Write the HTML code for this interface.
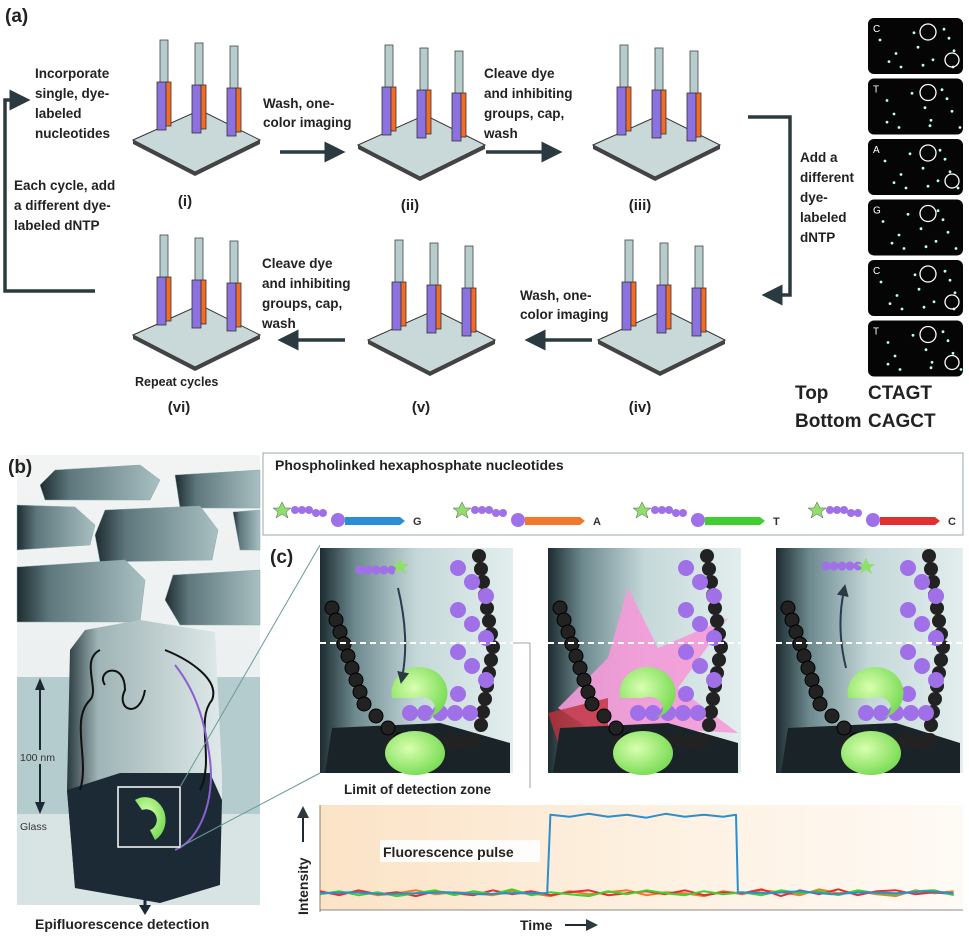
<!DOCTYPE html>
<html><head><meta charset="utf-8"><style>
html,body{margin:0;padding:0;background:#fff}
svg{display:block}
text{font-family:"Liberation Sans",Arial,sans-serif}
.b{font-weight:bold;fill:#222}
</style></head><body>
<svg id="fig" width="969" height="936" viewBox="0 0 969 936" xmlns="http://www.w3.org/2000/svg">
<defs>
<linearGradient id="bgB" x1="0" y1="0" x2="0" y2="1"><stop offset="0" stop-color="#f2f4f4"/><stop offset="1" stop-color="#e6ecec"/></linearGradient>
<linearGradient id="hex" x1="0" y1="0" x2="1" y2="0"><stop offset="0" stop-color="#1e2c30"/><stop offset="0.25" stop-color="#5d777c"/><stop offset="1" stop-color="#a9c0c2"/></linearGradient>
<linearGradient id="cyl" x1="0" y1="0" x2="1" y2="0"><stop offset="0" stop-color="#2a3a3e"/><stop offset="0.2" stop-color="#9fb4b6"/><stop offset="1" stop-color="#dfe9e9"/></linearGradient>
<linearGradient id="pan" x1="0" y1="0" x2="1" y2="0"><stop offset="0" stop-color="#1d2c30"/><stop offset="0.18" stop-color="#6d8a8f"/><stop offset="0.5" stop-color="#c5d8d9"/><stop offset="1" stop-color="#e3eeee"/></linearGradient>
<linearGradient id="chartbg" x1="0" y1="0" x2="1" y2="0"><stop offset="0" stop-color="#fbe3c6"/><stop offset="0.5" stop-color="#fdf0e0"/><stop offset="1" stop-color="#fefaf5"/></linearGradient>
<radialGradient id="grn" cx="0.4" cy="0.4" r="0.7"><stop offset="0" stop-color="#d9ffb0"/><stop offset="1" stop-color="#6fd84a"/></radialGradient>
<marker id="ah" markerWidth="6" markerHeight="6" refX="3" refY="3" orient="auto"><path d="M0,0 L6,3 L0,6 z" fill="#2b3a40"/></marker>
</defs>

<!-- PART A -->
<text x="5" y="22" class="b" font-size="19">(a)</text>
<g id="pillars"></g>

<g font-size="13.5" class="b">
<text x="35" y="78"><tspan x="35">Incorporate</tspan><tspan x="35" dy="20">single, dye-</tspan><tspan x="35" dy="20">labeled</tspan><tspan x="35" dy="20">nucleotides</tspan></text>
<text x="14" y="190"><tspan x="14">Each cycle, add</tspan><tspan x="14" dy="20">a different dye-</tspan><tspan x="14" dy="20">labeled dNTP</tspan></text>
<text x="263" y="108"><tspan x="263">Wash, one-</tspan><tspan x="263" dy="19">color imaging</tspan></text>
<text x="484" y="78"><tspan x="484">Cleave dye</tspan><tspan x="484" dy="20">and inhibiting</tspan><tspan x="484" dy="20">groups, cap,</tspan><tspan x="484" dy="20">wash</tspan></text>
<text x="800" y="162"><tspan x="800">Add a</tspan><tspan x="800" dy="20">different</tspan><tspan x="800" dy="20">dye-</tspan><tspan x="800" dy="20">labeled</tspan><tspan x="800" dy="20">dNTP</tspan></text>
<text x="262" y="268"><tspan x="262">Cleave dye</tspan><tspan x="262" dy="20">and inhibiting</tspan><tspan x="262" dy="20">groups, cap,</tspan><tspan x="262" dy="20">wash</tspan></text>
<text x="520" y="300"><tspan x="520">Wash, one-</tspan><tspan x="520" dy="19">color imaging</tspan></text>
<text x="135" y="386" font-size="12.5">Repeat cycles</text>
</g>
<g font-size="15" class="b" text-anchor="middle">
<text x="185" y="206">(i)</text><text x="410" y="210">(ii)</text><text x="640" y="210">(iii)</text>
<text x="640" y="412">(iv)</text><text x="421" y="412">(v)</text><text x="179" y="412">(vi)</text>
</g>
<g stroke="#2b3a40" stroke-width="3.5" fill="none">
<line x1="280" y1="152" x2="335" y2="152" marker-end="url(#ah)"/>
<line x1="486" y1="152" x2="552" y2="152" marker-end="url(#ah)"/>
<polyline points="748,117 790,117 790,295 772,295" marker-end="url(#ah)"/>
<line x1="592" y1="340" x2="535" y2="340" marker-end="url(#ah)"/>
<line x1="345" y1="340" x2="288" y2="340" marker-end="url(#ah)"/>
<polyline points="95,291 5,291 5,100 20,100" marker-end="url(#ah)"/>
</g>
<g id="tiles"></g>
<g font-size="19" class="b">
<text x="795" y="399">Top</text><text x="868" y="399">CTAGT</text>
<text x="795" y="427">Bottom</text><text x="868" y="427">CAGCT</text>
</g>

<!-- PART B -->
<rect x="17" y="455" width="243" height="450" fill="url(#bgB)"/>
<rect x="17" y="677" width="243" height="137" fill="#b4cccd"/>
<rect x="17" y="814" width="243" height="91" fill="#d8e4e4"/>
<g fill="url(#hex)" stroke="#8aa" stroke-width="0.5">
<path d="M55,470 L140,465 L160,480 L150,500 L45,500 L40,485z"/>
<path d="M175,475 L260,470 L260,508 L180,508z"/>
<path d="M17,505 L75,507 L95,525 L90,545 L17,550z"/>
<path d="M105,510 L200,506 L218,530 L212,560 L100,562 L95,535z"/>
<path d="M233,512 L260,510 L260,550 L240,550z"/>
<path d="M17,567 L125,560 L145,580 L140,622 L17,622z"/>
<path d="M173,575 L260,570 L260,625 L180,625 L165,600z"/>
</g>
<path d="M85,630 L140,620 L215,632 L222,775 L222,885 L160,903 L75,888 L67,790 L70,650z" fill="url(#cyl)"/>
<path d="M67,790 L120,773 L210,773 L222,800 L220,885 L160,903 L75,888z" fill="#1b2a35"/>
<path d="M80,790 C90,760 70,720 90,700 C100,690 80,660 100,650 M200,790 C215,760 195,720 212,700 C220,680 190,660 165,650 M105,685 C95,670 125,660 125,690 C115,710 140,720 145,690" stroke="#111" stroke-width="2" fill="none"/>
<path d="M175,850 C200,840 215,800 210,760 C205,720 195,690 175,665" stroke="#8a5fd0" stroke-width="2" fill="none"/>
<rect x="118" y="787" width="62" height="60" fill="none" stroke="#fff" stroke-width="1.5"/>
<path d="M135,800 a18,20 0 1 1 20,40 l-5,-10 a8,8 0 1 0 -8,-20z" fill="url(#grn)"/>
<line x1="180" y1="787" x2="320" y2="545" stroke="#6a9a9a" stroke-width="1"/>
<line x1="180" y1="847" x2="320" y2="773" stroke="#6a9a9a" stroke-width="1"/>
<text x="8" y="18" class="b" font-size="19" transform="translate(0,455)">(b)</text>
<line x1="40" y1="682" x2="40" y2="810" stroke="#1b2a35" stroke-width="2"/>
<path d="M35,690 L40,678 L45,690z M35,802 L40,814 L45,802z" fill="#1b2a35"/>
<rect x="18" y="750" width="46" height="14" fill="#b4cccd"/>
<text x="20" y="761" font-size="10.5" fill="#333">100 nm</text>
<text x="20" y="830" font-size="10.5" fill="#333">Glass</text>
<line x1="145" y1="872" x2="145" y2="907" stroke="#1b2a35" stroke-width="3"/>
<path d="M139,874 L145,864 L151,874z M139,905 L145,915 L151,905z" fill="#1b2a35"/>
<text x="35" y="929" class="b" font-size="14">Epifluorescence detection</text>

<!-- PART C -->
<rect x="263" y="453" width="700" height="82" fill="#fff" stroke="#9aa" stroke-width="1"/>
<text x="275" y="470" class="b" font-size="14">Phospholinked hexaphosphate nucleotides</text>
<g id="nucs"></g>
<text x="270" y="563" class="b" font-size="19">(c)</text>
<g id="panels"></g>
<line x1="513" y1="643" x2="530" y2="643" stroke="#888" stroke-width="0.8"/>
<line x1="530" y1="643" x2="530" y2="788" stroke="#888" stroke-width="0.8"/>
<text x="344" y="794" class="b" font-size="13.5">Limit of detection zone</text>

<g id="chart">
<rect x="320" y="805" width="643" height="105" fill="url(#chartbg)"/>
<line x1="320" y1="805" x2="320" y2="912" stroke="#666" stroke-width="0.8"/>
<line x1="320" y1="910" x2="963" y2="910" stroke="#666" stroke-width="0.8"/>
<text transform="translate(308,915) rotate(-90)" class="b" font-size="14">Intensity</text>
<line x1="303" y1="842" x2="303" y2="812" stroke="#1b2a35" stroke-width="2" marker-end="url(#ah)"/>
<text x="520" y="930" class="b" font-size="14">Time</text>
<line x1="565" y1="925" x2="592" y2="925" stroke="#1b2a35" stroke-width="2" marker-end="url(#ah)"/>
<rect x="380" y="840" width="160" height="22" fill="#fff" opacity="0.9"/>
<text x="383" y="857" class="b" font-size="14">Fluorescence pulse</text>
<g id="series"></g>
</g>
</svg>
<script>
const NS='http://www.w3.org/2000/svg';
function mk(t,a,p){const e=document.createElementNS(NS,t);for(const k in a)e.setAttribute(k,a[k]);p.appendChild(e);return e;}

// ---------- chart data ----------
const times=[0,3,6,9,12,15,18,21,24,27,30,33,36,39,42,45,48,51,54,57,60,63,66,69,72,75,78,81,84,87,90,93,96,99];
const redValues=[12,8,13,9,11,7,12,10,8,13,9,12,8,11,13,8,10,12,9,13,8,11,10,14,7,13,9,14,8,12,13,9,11,9];
const greenValues=[9,12,8,11,7,10,13,8,12,9,14,8,11,9,7,12,9,13,10,8,12,9,11,8,13,10,12,8,13,10,9,12,13,8];
const orangeValues=[11,9,12,8,10,13,9,11,10,8,12,10,7,12,9,11,13,8,11,10,7,12,9,13,11,8,14,10,12,9,7,13,10,12];
const blueTimes=[0,5,10,15,20,25,30,35.5,36,39,42,45,48,51,54,57,60,63,65,65.3,70,75,80,85,90,95,99];
const blueValues=[10,11,9,10,11,9,10,10,90,88,91,88,90,87,91,88,90,88,90,11,10,12,9,11,10,12,10];

const X0=320,X1=960;
const xs=t=>X0+(t/100)*(X1-X0);
const ys=v=>903-v*0.98;
const ser=document.getElementById('series');
function line(tt,vv,color,name){
  let d='';tt.forEach((t,i)=>{d+=(i?'L':'M')+xs(t).toFixed(1)+','+ys(vv[i]).toFixed(1);});
  const p=mk('path',{d:d,fill:'none',stroke:color,'stroke-width':2,'stroke-linejoin':'round'},ser);
  
  
}
line(times,orangeValues,'#f07a2a','orange-trace');
line(times,redValues,'#e03030','red-trace');
line(times,greenValues,'#3fcf2f','green-trace');
line(blueTimes,blueValues,'#2a8fd0','blue-trace');

// ---------- pillars ----------
const pg=document.getElementById('pillars');
function group(cx,cy){
  const g=mk('g',{},pg);
  
  
  mk('path',{d:`M${cx-62},${cy} L${cx+5},${cy-30} L${cx+65},${cy} L${cx},${cy+32}z`,fill:'#c9d9da',stroke:'#333','stroke-width':1},g);
  mk('path',{d:`M${cx-62},${cy} L${cx},${cy+32} L${cx+65},${cy} L${cx+65},${cy+4} L${cx},${cy+36} L${cx-62},${cy+4}z`,fill:'#444'},g);
  [-38,-3,32].forEach((dx,i)=>{
    const x=cx+dx, top=cy-58+i*3;
    mk('rect',{x:x+3,y:top-42,width:8,height:44,fill:'#b7cccc',stroke:'#444','stroke-width':0.8},g);
    mk('rect',{x:x,y:top,width:9,height:48,fill:'#8b72e0',stroke:'#333','stroke-width':0.8},g);
    mk('rect',{x:x+9,y:top,width:5,height:44,fill:'#f36b25',stroke:'#333','stroke-width':0.8},g);
  });
}
[[195,140],[420,145],[655,145],[660,340],[430,340],[195,335]].forEach(p=>group(p[0],p[1]));

// ---------- tiles ----------
const tg=document.getElementById('tiles');
const tileLetters=['C','T','A','G','C','T'];
const dots=[[12,20],[25,35],[40,12],[50,28],[62,42],[75,18],[85,50],[30,50],[70,8],[55,48],[18,44],[80,32]];
tileLetters.forEach((L,i)=>{
  const y=18+i*60.5;
  mk('rect',{x:868,y:y,width:95,height:56,rx:6,fill:'#050505'},tg);
  const t=mk('text',{x:873,y:y+14,'font-size':10,fill:'#fff','font-family':'Liberation Mono'},tg);t.textContent=L;
  dots.forEach((d,j)=>mk('circle',{cx:868+d[0]+((i*7+j*3)%9),cy:y+d[1]*0.9+4,r:1.4,fill:'#bfe'},tg));
  mk('circle',{cx:928,cy:y+14,r:8,fill:'none',stroke:'#fff','stroke-width':1.3},tg);
  if(i%2==0||i==5) mk('circle',{cx:952,cy:y+42,r:7,fill:'none',stroke:'#fff','stroke-width':1.3},tg);
});

// ---------- nucleotide legend ----------
const ng=document.getElementById('nucs');
[['G','#2a8fd0',290],['A','#f07a2a',470],['T','#3fcf2f',650],['C','#e03030',825]].forEach(n=>{
  const x=n[2],y=512;
  mk('path',{d:`M${x-8},${y-10} l3,6 6,0 -5,4 2,6 -6,-4 -6,4 2,-6 -5,-4 6,0z`,fill:'#8ee06a',stroke:'#555','stroke-width':0.5},ng);
  for(let k=0;k<5;k++) mk('circle',{cx:x+5+k*7,cy:y-2+(k>2?3:0),r:4,fill:'#a070e8'},ng);
  mk('circle',{cx:x+48,cy:y+8,r:7,fill:'#a070e8'},ng);
  mk('path',{d:`M${x+55},${y+5} L${x+110},${y+5} L${x+115},${y+9} L${x+110},${y+13} L${x+55},${y+13}z`,fill:n[1]},ng);
  const t=mk('text',{x:x+123,y:y+13,'font-size':11,'font-weight':'bold',fill:'#333'},ng);t.textContent=n[0];
});

// ---------- reaction panels ----------
const pp=document.getElementById('panels');
[320,548,776].forEach((x,i)=>{
  const w=i==2?187:193, y=548,h=225;
  const g=mk('g',{},pp);
  
  
  mk('rect',{x:x,y:y,width:w,height:h,fill:'url(#pan)'},g);
  if(i==1){
    mk('path',{d:`M${x+10},${y+160} L${x+60},${y+110} L${x+80},${y+40} L${x+110},${y+100} L${x+180},${y+70} L${x+130},${y+140} L${x+190},${y+185} L${x+100},${y+180} L${x+90},${y+225} L${x+60},${y+190} L${x+30},${y+225} L${x+40},${y+180}z`,fill:'#f59ad8',opacity:0.9},g);
    mk('path',{d:`M${x},${y+165} L${x+60},${y+150} L${x+60},${y+225} L${x+20},${y+225}z`,fill:'#c0303a',opacity:0.8},g);
  }
  mk('path',{d:`M${x+5},${y+h} L${x+12},${y+180} L${x+120},${y+175} L${x+w-3},${y+195} L${x+w-3},${y+h}z`,fill:'#1a2328'},g);
  for(let k=0;k<12;k++) mk('circle',{cx:x+12+k*4+(k>8?(k-8)*8:0),cy:y+60+k*12,r:7,fill:'#222',stroke:'#000'},g);
  for(let k=0;k<8;k++) mk('circle',{cx:x+70+k*12,cy:y+195-(k%2)*3,r:7,fill:'#222'},g);
  for(let k=0;k<14;k++) mk('circle',{cx:x+w-20-Math.abs(7-k)*2,cy:y+8+k*13,r:7,fill:'#222'},g);
  for(let k=0;k<10;k++) mk('circle',{cx:x+w-55+(k%3)*14,cy:y+20+k*14,r:8,fill:'#a070e8'},g);
  for(let k=0;k<5;k++) mk('circle',{cx:x+90+k*15,cy:y+165,r:8,fill:'#a070e8'},g);
  mk('path',{d:`M${x+72},${y+150} a28,26 0 1 1 35,20 a10,8 0 1 0 -12,-20z`,fill:'url(#grn)'},g);
  mk('ellipse',{cx:x+95,cy:y+205,rx:30,ry:22,fill:'url(#grn)'},g);
  if(i!=1){
    for(let k=0;k<5;k++) mk('circle',{cx:x+40+k*8+(i==2?10:0),cy:y+(i==2?18:22),r:4.5,fill:'#a070e8'},g);
    mk('path',{d:`M${x+80+(i==2?10:0)},${y+10} l3,6 6,0 -5,4 2,6 -6,-4 -6,4 2,-6 -5,-4 6,0z`,fill:'#8ee06a'},g);
    mk('path',{d:i==0?`M${x+78},${y+40} Q${x+90},${y+90} ${x+82},${y+130}`:`M${x+70},${y+120} Q${x+60},${y+80} ${x+68},${y+42}`,stroke:'#2b3a50','stroke-width':2,fill:'none','marker-end':'url(#ah)'},g);
  }
  mk('line',{x1:x,y1:y+95,x2:x+w,y2:y+95,stroke:'#fff','stroke-width':2,'stroke-dasharray':'6,4'},g);
});
</script>
</body></html>
